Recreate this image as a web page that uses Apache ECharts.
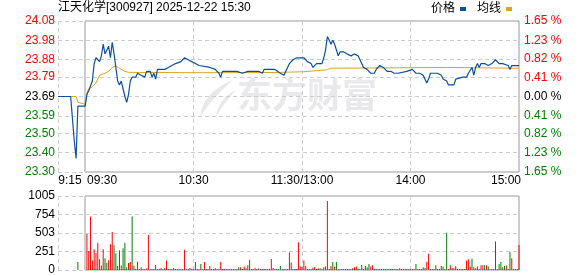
<!DOCTYPE html>
<html><head><meta charset="utf-8">
<script src="https://cdn.jsdelivr.net/npm/echarts@6/dist/echarts.min.js"></script>
<style>html,body{margin:0;padding:0;background:#fff}#c{width:578px;height:276px}</style>
</head><body><div id="c"></div>
<script>
const titleText = '江天化学[300927] 2025-12-22 15:30';
const preClose = 23.69;
const timeTicks = [0, 15, 75, 135, 195, 255];
const timeLabels = ['9:15', '09:30', '10:30', '11:30/13:00', '14:00', '15:00'];
const priceTicks = ['23.30', '23.40', '23.50', '23.59', '23.69', '23.79', '23.88', '23.98', '24.08'];
const pctTicks = ['-1.65', '-1.23', '-0.82', '-0.41', '0.00', '0.41', '0.82', '1.23', '1.65'];
const volTicks = [0, 251, 503, 754, 1005];

// [minute index from 9:15, price]
const price = [[0,23.69],[5,23.69],[6,23.70],[7,23.69],[8,23.69],[9,23.46],[10,23.37],[11,23.64],[15,23.64],
[16,23.70],[17,23.72],[18,23.73],[19,23.77],[20,23.86],[21,23.89],[22,23.90],[23,23.87],[24,23.90],[25,23.96],[26,23.91],[27,23.92],[28,23.95],[29,23.89],[30,23.97],[31,23.91],[32,23.84],[33,23.77],[34,23.75],[35,23.77],[36,23.73],[37,23.69],[38,23.66],[39,23.70],[40,23.77],[41,23.79],[42,23.80],[43,23.79],[44,23.81],[45,23.82],[46,23.80],[47,23.81],[48,23.79],[49,23.82],[50,23.81],[51,23.82],[52,23.79],[53,23.81],[54,23.78],[55,23.83],[56,23.84],[57,23.83],[58,23.84],[59,23.83],[60,23.84],[61,23.84],[62,23.85],[63,23.85],[64,23.86],[65,23.86],[66,23.86],[68,23.87],[70,23.89],[71,23.88],[72,23.88],[73,23.89],[74,23.87],[75,23.88],[76,23.86],[77,23.87],[78,23.85],[79,23.84],[84,23.84],[85,23.83],[87,23.83],[88,23.82],[89,23.81],[90,23.79],[91,23.82],[99,23.82],[100,23.81],[102,23.81],[103,23.82],[105,23.82],[106,23.81],[107,23.82],[108,23.81],[109,23.82],[110,23.81],[111,23.82],[112,23.81],[113,23.81],[114,23.83],[115,23.82],[116,23.83],[117,23.84],[118,23.83],[120,23.83],[121,23.82],[123,23.81],[124,23.81],[125,23.80],[126,23.82],[127,23.81],[128,23.86],[129,23.87],[130,23.88],[131,23.88],[132,23.89],[134,23.89],[135,23.90],[136,23.89],[137,23.88],[138,23.87],[139,23.86],[140,23.86],[141,23.84],[142,23.83],[143,23.86],[146,23.86],[147,23.89],[148,23.93],[149,24.00],[150,23.98],[151,23.96],[152,23.98],[153,23.96],[154,23.93],[155,23.90],[156,23.92],[157,23.93],[158,23.92],[159,23.92],[160,23.91],[161,23.91],[162,23.90],[163,23.90],[164,23.91],[165,23.91],[166,23.90],[167,23.90],[168,23.86],[169,23.84],[170,23.84],[171,23.83],[172,23.82],[173,23.81],[174,23.82],[175,23.81],[176,23.83],[177,23.84],[178,23.85],[179,23.85],[180,23.84],[181,23.83],[182,23.82],[183,23.83],[184,23.82],[185,23.82],[186,23.81],[188,23.81],[189,23.82],[193,23.82],[194,23.83],[196,23.83],[197,23.82],[198,23.81],[199,23.82],[200,23.81],[201,23.80],[202,23.80],[203,23.79],[204,23.76],[205,23.78],[206,23.81],[208,23.81],[209,23.82],[210,23.81],[211,23.80],[212,23.80],[213,23.78],[214,23.78],[215,23.77],[216,23.75],[219,23.75],[220,23.78],[221,23.79],[224,23.79],[225,23.78],[226,23.79],[227,23.81],[228,23.82],[229,23.84],[230,23.80],[231,23.84],[232,23.86],[233,23.84],[234,23.86],[236,23.86],[237,23.85],[238,23.85],[239,23.86],[240,23.86],[241,23.87],[242,23.88],[243,23.87],[244,23.86],[246,23.86],[247,23.85],[249,23.85],[250,23.83],[251,23.85],[255,23.85]];

const avgPrice = [[0,23.69],[10,23.69],[11,23.66],[15,23.65],[16,23.71],[17,23.73],[18,23.72],[19,23.74],[20,23.75],[21,23.76],[22,23.78],[23,23.80],[24,23.805],[26,23.81],[28,23.82],[29,23.83],[30,23.84],[31,23.848],[32,23.848],[33,23.842],[34,23.835],[35,23.828],[37,23.82],[39,23.815],[45,23.814],[80,23.813],[120,23.814],[128,23.816],[136,23.818],[137,23.826],[148,23.827],[149,23.834],[151,23.836],[152,23.840],[215,23.840],[216,23.836],[255,23.836]];

const volFrom = 11;
const volume = [110,0,0,0,0,
489,259,727,130,282,231,369,145,62,282,
158,99,131,351,516,337,227,55,269,62,
296,369,37,94,108,727,62,14,113,14,
37,14,14,20,475,14,14,14,69,14,
18,28,14,23,129,14,14,14,28,14,
14,14,18,14,275,14,14,28,14,14,
110,14,14,83,14,110,14,14,55,14,
14,23,14,14,110,14,14,14,14,14,
14,14,14,14,37,37,14,46,23,64,
138,14,14,28,14,23,14,14,14,14,
14,14,151,28,14,14,14,55,14,14,
14,14,239,101,14,14,14,376,46,40,
129,55,14,14,14,32,37,14,23,23,
14,37,46,936,14,55,110,46,110,14,
14,14,14,14,14,14,14,23,37,46,
18,14,69,14,55,37,83,46,64,14,
14,14,14,14,14,14,14,14,14,14,
14,14,14,23,14,14,14,14,14,14,
14,14,83,14,14,14,37,28,110,220,
14,14,14,64,14,14,55,46,14,505,
14,64,23,23,55,14,14,14,14,14,
129,147,46,156,37,23,46,14,64,64,
64,64,46,14,14,14,386,14,83,110,
37,55,60,14,245,160,14,14,14,340];
const volUp = [0,1,1,1,1,
1,1,1,1,1,1,1,0,1,1,
0,0,1,1,1,0,0,0,0,1,
0,0,0,1,1,0,1,1,1,1,
0,0,0,1,1,0,0,0,1,1,
1,1,0,1,1,0,0,0,1,1,
1,1,1,0,1,0,0,1,0,0,
1,1,0,0,0,1,1,1,1,0,
1,0,1,1,1,1,1,0,1,1,
1,1,0,0,0,1,1,1,1,0,
1,1,0,1,1,0,1,1,1,1,
1,1,1,1,1,1,0,0,0,1,
1,1,1,0,1,1,1,1,1,1,
1,0,0,0,0,1,1,1,1,0,
1,1,1,1,1,1,0,1,0,0,
0,0,1,1,0,1,1,1,1,1,
1,0,0,0,0,0,0,1,1,1,
1,1,0,0,1,0,0,0,1,1,
0,0,1,1,1,0,1,1,1,0,
0,0,0,0,0,1,1,0,1,1,
0,0,1,0,1,0,1,0,0,0,
1,1,1,1,1,1,1,1,1,1,
1,1,1,0,1,1,1,1,1,1,
0,1,0,1,1,1,1,1,0,0,
0,0,1,1,0,1,1,1,1,1];

const UP = '#ff0000', DOWN = '#008000', FLAT = '#000000';
const FONT = '"Liberation Sans", "Noto Sans CJK SC", sans-serif';

const volData = [];
const volColors = [];
volume.forEach((v, i) => { if (v > 0) { volData.push([volFrom + i, v]); volColors.push(volUp[i] ? UP : DOWN); } });

const dash = { type: [4, 3], color: '#cccccc', width: 1 };
const chart = echarts.init(document.getElementById('c'), null, { renderer: 'canvas' });

const xBase = (grid, labels) => ({
  type: 'value', gridIndex: grid, min: 0, max: 255,
  axisLine: { show: false }, axisTick: { show: false, customValues: timeTicks },
  splitLine: { show: true, lineStyle: dash },
  axisLabel: labels ? {
    show: true, customValues: timeTicks, margin: 3, fontSize: 12, fontFamily: FONT, color: '#000',
    formatter: v => '{a' + timeTicks.indexOf(v) + '|' + timeLabels[timeTicks.indexOf(v)] + '}',
    rich: {
      a0: { padding: [0, 0, 0, 24], fontSize: 12, fontFamily: FONT, color: '#000' },
      a1: { padding: [0, 0, 0, 34], fontSize: 12, fontFamily: FONT, color: '#000' },
      a2: { fontSize: 12, fontFamily: FONT, color: '#000' },
      a3: { fontSize: 12, fontFamily: FONT, color: '#000' },
      a4: { fontSize: 12, fontFamily: FONT, color: '#000' },
      a5: { padding: [0, 26, 0, 0], fontSize: 12, fontFamily: FONT, color: '#000' }
    }
  } : { show: false }
});
const hiddenX = g => ({ type: 'value', gridIndex: g, min: 0, max: 1, show: false });
const hiddenY = g => ({ type: 'value', gridIndex: g, min: 0, max: 1, show: false });
const lvlColor = v => v > preClose + 1e-6 ? UP : (v < preClose - 1e-6 ? DOWN : FLAT);
const wm = '#e9e9ec';

// watermark swoosh (decoration only): crescent made of two quadratic curves
function crescent(a, b, c, d) {
  const pts = [];
  const q = (p0, p1, p2, t) => [(1-t)*(1-t)*p0[0] + 2*(1-t)*t*p1[0] + t*t*p2[0], (1-t)*(1-t)*p0[1] + 2*(1-t)*t*p1[1] + t*t*p2[1]];
  for (let i = 0; i <= 12; i++) pts.push(q(a, b, c, i / 12));
  for (let i = 0; i <= 12; i++) pts.push(q(c, d, a, i / 12));
  return pts;
}

chart.setOption({
  animation: false,
  backgroundColor: '#fff',
  title: { text: titleText, left: 58, top: 2, padding: 0,
    textStyle: { fontSize: 12, fontWeight: 'normal', color: '#000', fontFamily: FONT } },
  legend: { data: ['价格', '均线'], left: 431, top: 3, padding: 0, align: 'right', icon: 'rect',
    itemWidth: 6, itemHeight: 4, itemGap: 11,
    textStyle: { fontSize: 12, color: '#000', fontFamily: FONT } },
  graphic: [
    { type: 'text', left: 237, top: 77, z: -10, silent: true,
      style: { text: '东方财富', font: 'bold 35px "Noto Sans CJK SC"', fill: wm } },
    { type: 'polygon', z: -10, silent: true, shape: { points: crescent([200,117],[203,92],[233,80],[214,96]) }, style: { fill: wm } },
    { type: 'polygon', z: -10, silent: true, shape: { points: crescent([216,117],[218,99],[236,90],[224,103]) }, style: { fill: wm } }
  ],
  grid: [
    { left: 58, top: 21, width: 461, height: 151 },
    { left: 85, top: 21, width: 434, height: 151, show: true, borderColor: '#999999', borderWidth: 1, backgroundColor: 'transparent' },
    { left: 58, top: 196, width: 461, height: 74 },
    { left: 85, top: 196, width: 434, height: 74, show: true, borderColor: '#999999', borderWidth: 1, backgroundColor: 'transparent' }
  ],
  xAxis: [xBase(0, true), hiddenX(1), xBase(2, false), hiddenX(3)],
  yAxis: [
    { type: 'value', gridIndex: 0, min: 23.30, max: 24.08, position: 'left',
      axisLine: { show: false }, axisTick: { show: false, customValues: priceTicks.map(Number) },
      splitLine: { show: true, lineStyle: dash },
      axisLabel: { customValues: priceTicks.map(Number), margin: 3, fontSize: 12, fontFamily: FONT,
        formatter: v => priceTicks.find(t => Number(t) === v),
        color: v => lvlColor(v) } },
    { type: 'value', gridIndex: 0, min: -1.65, max: 1.65, position: 'right',
      axisLine: { show: false }, axisTick: { show: false, customValues: pctTicks.map(Number) },
      splitLine: { show: false },
      axisLabel: { customValues: pctTicks.map(Number), margin: 5, fontSize: 12, fontFamily: FONT,
        formatter: v => pctTicks.find(t => Number(t) === v).replace('-', '') + ' %',
        color: v => v > 0 ? UP : (v < 0 ? DOWN : FLAT) } },
    hiddenY(1),
    { type: 'value', gridIndex: 2, min: 0, max: 1005, position: 'left',
      axisLine: { show: false }, axisTick: { show: false, customValues: volTicks },
      splitLine: { show: true, lineStyle: dash },
      axisLabel: { customValues: volTicks, margin: 3, fontSize: 12, fontFamily: FONT, color: '#000',
        formatter: v => String(v) } },
    hiddenY(3)
  ],
  series: [
    { name: '价格', type: 'line', xAxisIndex: 0, yAxisIndex: 0, data: price, symbol: 'none',
      color: '#0b4fa3', lineStyle: { width: 1.2, color: '#0b4fa3' }, z: 4 },
    { name: '均线', type: 'line', xAxisIndex: 0, yAxisIndex: 0, data: avgPrice, symbol: 'none',
      color: '#dba323', lineStyle: { width: 1, color: '#dba323' }, z: 3 },
    { name: 'vol', type: 'bar', xAxisIndex: 2, yAxisIndex: 3, data: volData, barWidth: 1,
      itemStyle: { color: p => volColors[p.dataIndex] } }
  ]
});
</script></body></html>
